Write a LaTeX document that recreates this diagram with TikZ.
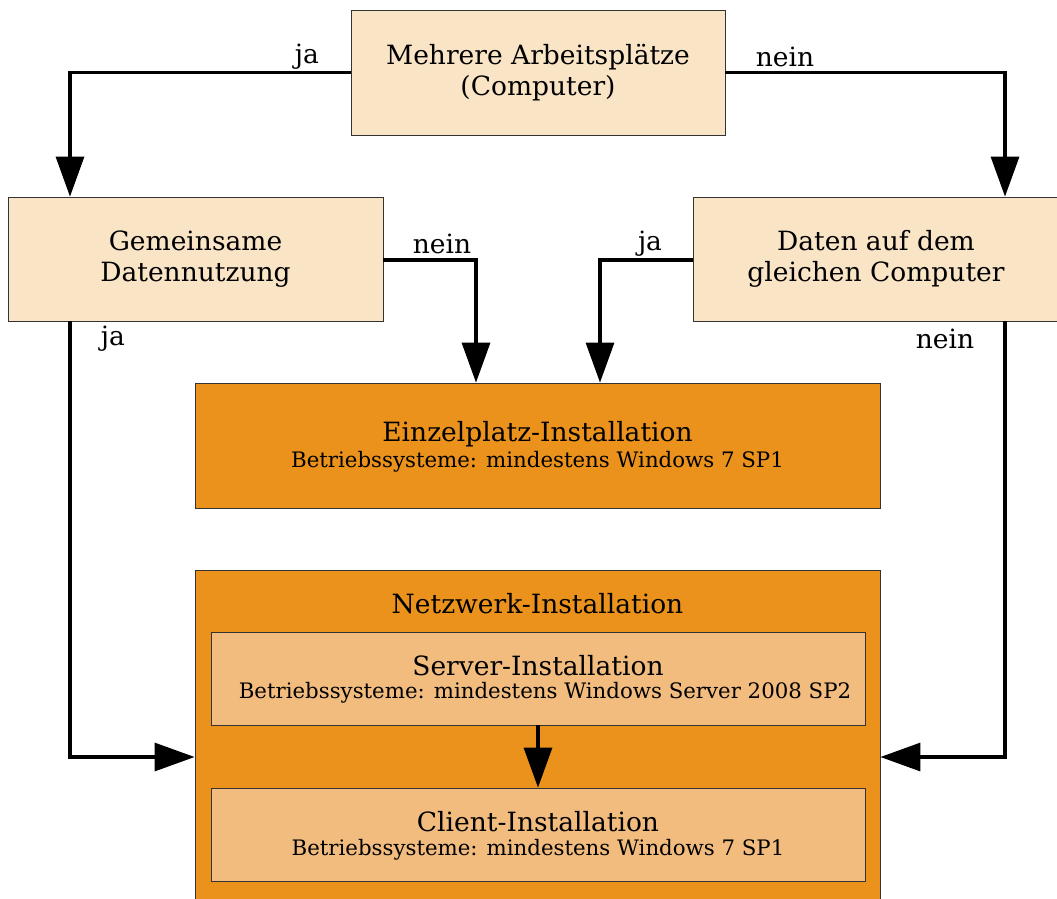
\documentclass[tikz,border=0pt]{standalone}
\usepackage{fontspec}
\setmainfont{DejaVu Serif}
\usetikzlibrary{arrows.meta}
\definecolor{lightbox}{HTML}{F9E4C6}
\definecolor{orangebox}{HTML}{EB921C}
\definecolor{paleorange}{HTML}{F2BC7F}
\tikzset{
  box/.style={draw=black!80, line width=0.8pt, inner sep=0pt, align=center},
  decision/.style={box, fill=lightbox, font=\fontsize{26.5}{31}\selectfont},
  bigbox/.style={box, fill=orangebox},
  subbox/.style={box, fill=paleorange},
  ttl/.style={font=\fontsize{26.5}{30}\selectfont, inner sep=0pt},
  sub/.style={font=\fontsize{21.3}{24}\selectfont, inner sep=0pt},
  lbl/.style={font=\fontsize{26.5}{30}\selectfont, inner sep=0pt},
  conn/.style={line width=3.2pt, -{Triangle[width=28pt,length=40pt]}}
}
\begin{document}
\begin{tikzpicture}[x=1pt,y=-1pt]
\useasboundingbox (0,0) rectangle (1057,898);
% decision boxes
\node[decision, minimum width=374pt, minimum height=125pt] (top) at (538,72.5) {Mehrere Arbeitsplätze\\(Computer)};
\node[decision, minimum width=375pt, minimum height=124pt] (left) at (195.5,259) {Gemeinsame\\Datennutzung};
\node[decision, minimum width=366pt, minimum height=124pt] (right) at (876,259) {Daten auf dem\\gleichen Computer};
% Einzelplatz
\node[bigbox, minimum width=685pt, minimum height=125pt] (einzel) at (537.5,445.5) {};
\node[ttl] (einzelt) at (537.5,434) {Einzelplatz-Installation};
\node[sub] (einzels) at (537.5,462) {Betriebssysteme: mindestens Windows 7 SP1};
% Netzwerk
\node[bigbox, minimum width=685pt, minimum height=340pt] (netz) at (537.5,740) {};
\node[ttl] (netzt) at (537.5,604) {Netzwerk-Installation};
\node[subbox, minimum width=654pt, minimum height=93pt] (server) at (538,678.5) {};
\node[ttl] (servert) at (538,666) {Server-Installation};
\node[sub] (servers) at (545,693) {Betriebssysteme: mindestens Windows Server 2008 SP2};
\node[subbox, minimum width=654pt, minimum height=93pt] (client) at (538,834.5) {};
\node[ttl] (clientt) at (538,822) {Client-Installation};
\node[sub] (clients) at (538,850) {Betriebssysteme: mindestens Windows 7 SP1};
% connectors
\coordinate (c1) at (70,72.5);
\coordinate (c2) at (1005,72.5);
\draw[conn] (top.west) -- (c1) -- (c1 |- left.north);
\draw[conn] (top.east) -- (c2) -- (c2 |- right.north);
\coordinate (c3) at (476,260);
\coordinate (c4) at (600,260);
\draw[conn] (left.east |- c3) -- (c3) -- (c3 |- einzel.north);
\draw[conn] (right.west |- c4) -- (c4) -- (c4 |- einzel.north);
\coordinate (c5) at (70,757);
\coordinate (c6) at (1005,757);
\draw[conn] (c5 |- left.south) -- (c5) -- (netz.west |- c5);
\draw[conn] (c6 |- right.south) -- (c6) -- (netz.east |- c6);
\draw[conn] (server.south) -- (client.north);
% labels
\node[lbl] (l1) at (307,57) {ja};
\node[lbl] (l2) at (785,57) {nein};
\node[lbl] (l3) at (442,244) {nein};
\node[lbl] (l4) at (650,244) {ja};
\node[lbl] (l5) at (113,339) {ja};
\node[lbl] (l6) at (945,339) {nein};
\end{tikzpicture}
\end{document}
